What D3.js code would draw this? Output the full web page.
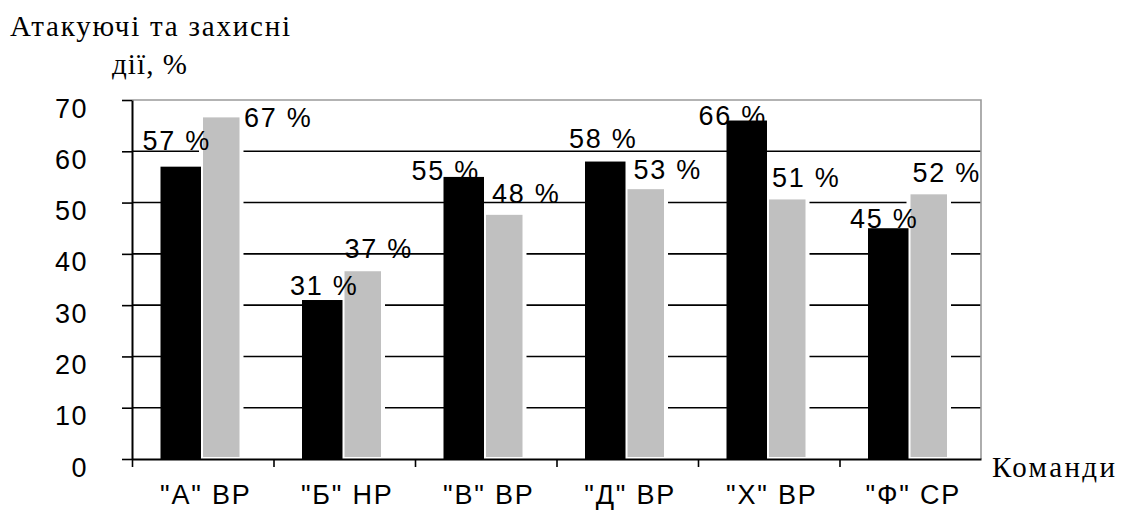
<!DOCTYPE html>
<html lang="uk">
<head>
    <meta charset="UTF-8">
    <title>Команди</title>
    <script src="https://cdn.jsdelivr.net/npm/d3@7"></script>
    <style>
        body { margin: 0; background: #fff; }
        svg text { font-family: "Liberation Sans", Arial, sans-serif; fill: #000; }
        .serif { font-family: "Liberation Serif", "Times New Roman", serif; }
    </style>
</head>
<body>
<svg id="chart" width="1124" height="510"></svg>
<script>
    // data
    const categories = ['"А" ВР', '"Б" НР', '"В" ВР', '"Д" ВР', '"Х" ВР', '"Ф" СР'];
    const attack = [57, 31, 55, 58, 66, 45];
    const defence = [67, 37, 48, 53, 51, 52];
    const yTicks = [0, 10, 20, 30, 40, 50, 60, 70];

    // hand placed value labels in the original: [dx from bar centre, dy from bar top]
    const attackLabelShift = [[-4, -17], [2, -5], [-18, 3], [-2, -14], [-14, 4], [-4, 0]];
    const defenceLabelShift = [[57, 12], [16, -11], [22, -10], [22, -8], [19, -10], [18, -10]];

    const plot = {left: 132, right: 981, top: 100, bottom: 459};
    const svg = d3.select('#chart');

    const x = d3.scaleBand().domain(categories).range([plot.left, plot.right]).padding(0);
    const xs = d3.scaleBand().domain(['attack', 'defence']).range([28.5, 109.5]);
    const y = d3.scaleLinear().domain([0, 70]).range([plot.bottom, plot.top]);

    // grid
    svg.append('g').selectAll('line').data(yTicks.filter(d => d > 0 && d < 70))
        .join('line')
        .attr('x1', plot.left).attr('x2', plot.right)
        .attr('y1', d => y(d)).attr('y2', d => y(d))
        .attr('stroke', '#000').attr('stroke-width', 1.6);

    // plot border (top / right)
    svg.append('path')
        .attr('d', `M${plot.left},${y(70)}H${plot.right}V${plot.bottom}`)
        .attr('fill', 'none').attr('stroke', '#9a9a9a').attr('stroke-width', 1.6);

    // bars
    const groups = svg.append('g').selectAll('g').data(categories)
        .join('g').attr('transform', d => `translate(${x(d)},0)`);

    groups.append('rect')
        .attr('x', xs('defence')).attr('width', xs.bandwidth())
        .attr('y', (d, i) => y(defence[i])).attr('height', (d, i) => plot.bottom - y(defence[i]))
        .attr('fill', '#c0c0c0').attr('stroke', '#fff').attr('stroke-width', 4);

    groups.append('rect')
        .attr('x', xs('attack')).attr('width', xs.bandwidth())
        .attr('y', (d, i) => y(attack[i])).attr('height', (d, i) => plot.bottom - y(attack[i]))
        .attr('fill', '#000');

    // value labels
    const labelStyle = sel => sel.attr('text-anchor', 'middle')
        .attr('font-size', 27).attr('letter-spacing', 1.8);

    groups.append('text').call(labelStyle)
        .attr('x', (d, i) => xs('attack') + xs.bandwidth() / 2 + attackLabelShift[i][0])
        .attr('y', (d, i) => y(attack[i]) + attackLabelShift[i][1])
        .text((d, i) => attack[i] + ' %');

    groups.append('text').call(labelStyle)
        .attr('x', (d, i) => xs('defence') + xs.bandwidth() / 2 + defenceLabelShift[i][0])
        .attr('y', (d, i) => y(defence[i]) + defenceLabelShift[i][1])
        .text((d, i) => defence[i] + ' %');

    // y axis
    const ya = svg.append('g').attr('transform', `translate(${plot.left},0)`)
        .call(d3.axisLeft(y).tickValues(yTicks).tickSize(10).tickSizeOuter(0).tickPadding(34));
    ya.select('.domain').attr('stroke', '#000').attr('stroke-width', 2);
    ya.selectAll('.tick line').attr('stroke', '#000').attr('stroke-width', 1.6);
    ya.selectAll('.tick text')
        .attr('font-size', 27).attr('letter-spacing', 1.5)
        .attr('font-family', '"Liberation Sans", Arial, sans-serif')
        .attr('dy', 17);

    // x axis: ticks on category boundaries, labels under centres
    const bounds = d3.scaleLinear().domain([0, categories.length]).range([plot.left, plot.right]);
    const xa = svg.append('g').attr('transform', `translate(0,${plot.bottom})`)
        .call(d3.axisBottom(bounds).tickValues(d3.range(categories.length)).tickSize(8)
            .tickSizeOuter(0).tickFormat(''));
    xa.select('.domain').attr('stroke', '#000').attr('stroke-width', 2);
    xa.selectAll('.tick line').attr('stroke', '#000').attr('stroke-width', 1.6);

    const xl = svg.append('g').attr('transform', `translate(3,${plot.bottom})`)
        .call(d3.axisBottom(x).tickSize(0).tickPadding(0));
    xl.select('.domain').remove();
    xl.selectAll('.tick text')
        .attr('font-size', 27).attr('letter-spacing', 1.8)
        .attr('font-family', '"Liberation Sans", Arial, sans-serif')
        .attr('dy', 45);

    // axis titles
    svg.append('text').attr('class', 'serif')
        .attr('x', 10).attr('y', 36).attr('font-size', 29)
        .attr('textLength', 280).attr('lengthAdjust', 'spacing')
        .text('Атакуючі та захисні');
    svg.append('text').attr('class', 'serif')
        .attr('x', 112).attr('y', 74).attr('font-size', 29)
        .attr('textLength', 75).attr('lengthAdjust', 'spacing')
        .text('дії, %');
    svg.append('text').attr('class', 'serif')
        .attr('x', 992).attr('y', 477).attr('font-size', 29)
        .attr('textLength', 123).attr('lengthAdjust', 'spacing')
        .text('Команди');
</script>
</body>
</html>
